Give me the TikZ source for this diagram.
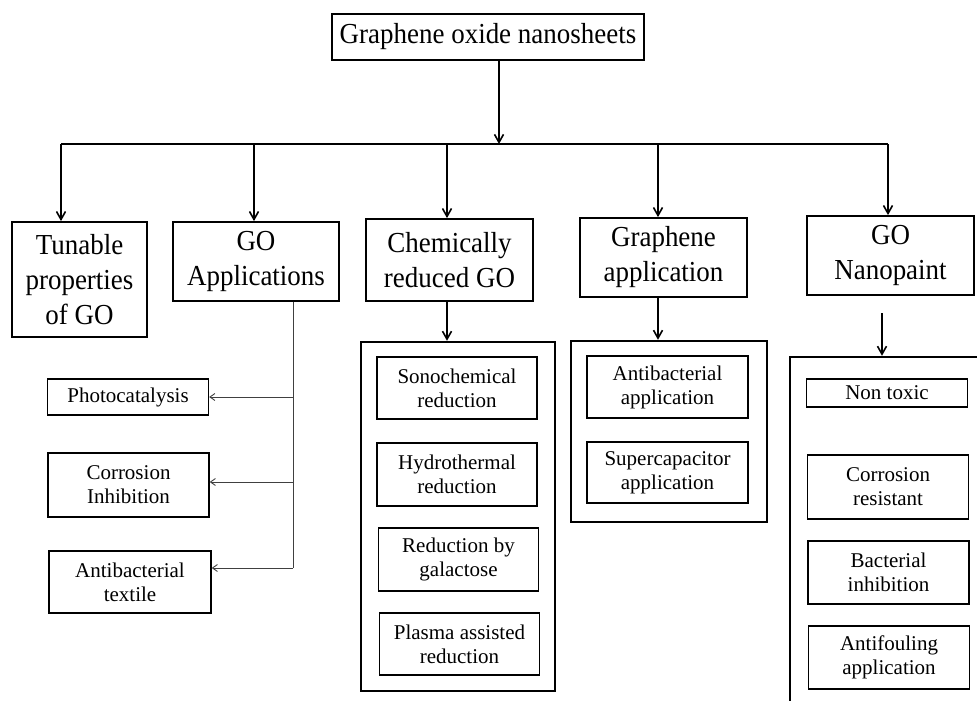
\documentclass[tikz,border=0pt]{standalone}
\usepackage{fontspec}
\setmainfont{Liberation Serif}
\newfontfamily\narrowserif[FakeStretch=0.93]{Liberation Serif}
\usetikzlibrary{arrows.meta}

\tikzset{
  head/.style={draw,line width=1.8pt,align=center,inner sep=0pt,
    font=\narrowserif\fontsize{29}{35}\selectfont},
  item/.style={draw,line width=1.4pt,align=center,inner sep=0pt,
    minimum width=161pt,font=\fontsize{21}{24}\selectfont},
  group/.style={draw,line width=2.4pt,inner sep=0pt},
  feed/.style={line width=0.9pt,black!75,-{Straight Barb[length=5pt,width=7pt]}},
}

\begin{document}
\begin{tikzpicture}[x=1pt,y=-1pt,line width=1.6pt,
    >={Straight Barb[length=8pt,width=9pt]}]
  \useasboundingbox (0,0) rectangle (977,701);
  \clip (0,0) rectangle (977,701);

  % top and first row
  \node[head,minimum width=312pt,minimum height=46pt] (top) at (488,37) {Graphene oxide nanosheets};
  \node[head,minimum width=135pt,minimum height=115pt] (tun) at (79.5,279.5) {Tunable\\properties\\of GO};
  \node[head,minimum width=166pt,minimum height=79pt] (goapp) at (256,261.5) {GO\\Applications};
  \node[head,minimum width=167pt,minimum height=82pt] (chem) at (449.5,260) {Chemically\\reduced GO};
  \node[head,minimum width=167pt,minimum height=79pt] (graph) at (663.5,257.5) {Graphene\\application};
  \node[head,minimum width=167pt,minimum height=79pt] (nano) at (890.5,255.5) {GO\\Nanopaint};

  \coordinate (b0) at (499,144);
  \coordinate (bl) at (61,144);
  \coordinate (br) at (888,144);
  \draw[->] (top.south -| b0) -- (b0);
  \draw (bl) -- (br);
  \foreach \n/\x in {tun/61,goapp/254,chem/447,graph/658,nano/888}
    \draw[->] (\x,144) -- (\x,144 |- \n.north);

  % GO applications
  \node[item,minimum height=36pt] (photo) at (128,397) {Photocatalysis};
  \node[item,minimum height=64pt] (corr) at (128.5,485) {Corrosion\\Inhibition};
  \node[item,minimum height=62pt,minimum width=162pt] (tex) at (130,582) {Antibacterial\\textile};
  \coordinate (a0) at (293,568);
  \draw[line width=0.9pt,black!75] (goapp.south -| a0) -- (a0);
  \draw[feed] (293,397) -- (photo.east |- 0,397);
  \draw[feed] (293,482) -- (corr.east |- 0,482);
  \draw[feed] (a0) -- (tex.east |- a0);

  % chemically reduced GO
  \node[group,minimum width=194pt,minimum height=349pt] (chemgrp) at (458,516.5) {};
  \draw[->] (chem.south -| 447,0) -- (chemgrp.north -| 447,0);
  \node[item,minimum width=160pt,minimum height=62pt] (sono) at (457,388) {Sonochemical\\reduction};
  \node[item,minimum width=160pt,minimum height=63pt] (hydro) at (457,474.5) {Hydrothermal\\reduction};
  \node[item,minimum width=160pt,minimum height=63pt] (galac) at (458.5,559.5) {Reduction by\\galactose};
  \node[item,minimum width=160pt,minimum height=62pt] (plasma) at (459.5,644) {Plasma assisted\\reduction};

  % graphene application
  \node[group,minimum width=196pt,minimum height=181pt] (graphgrp) at (669,431.5) {};
  \draw[->] (graph.south -| 658,0) -- (graphgrp.north -| 658,0);
  \node[item,minimum height=62pt] (antib) at (667.5,387) {Antibacterial\\application};
  \node[item,minimum height=61pt] (super) at (667.5,472.5) {Supercapacitor\\application};

  % GO nanopaint
  \node[group,minimum width=210pt,minimum height=363pt] (nanogrp) at (895,538.5) {};
  \coordinate (n0) at (882,313);
  \draw[->] (n0) -- (n0 |- nanogrp.north);
  \node[item,minimum height=28pt] (nontox) at (887,393) {Non toxic};
  \node[item,minimum height=64pt] (cores) at (888,487) {Corrosion\\resistant};
  \node[item,minimum height=63pt] (bact) at (888.5,572.5) {Bacterial\\inhibition};
  \node[item,minimum height=63pt] (antif) at (889,657.5) {Antifouling\\application};
\end{tikzpicture}
\end{document}
